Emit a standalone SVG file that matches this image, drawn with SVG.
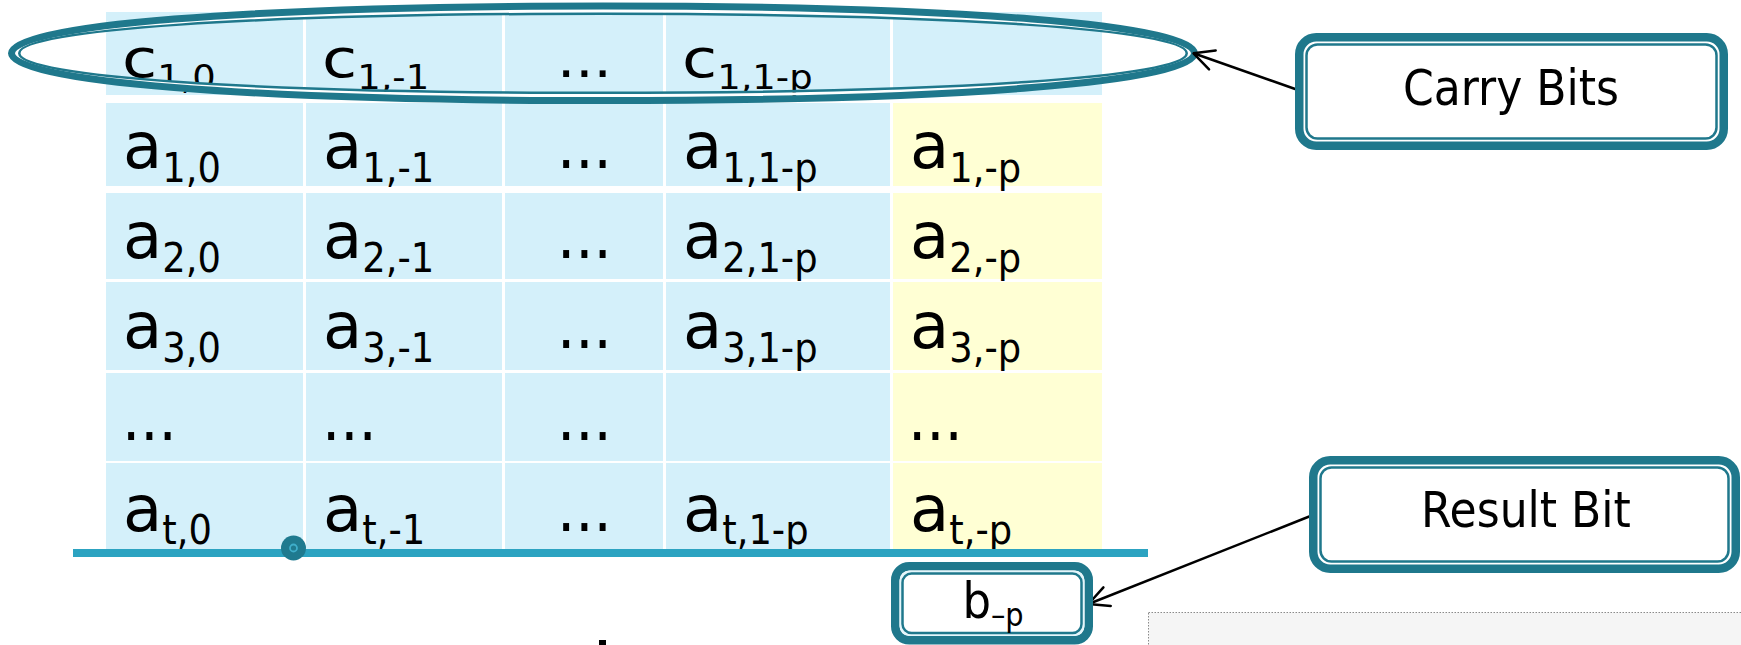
<svg xmlns="http://www.w3.org/2000/svg" width="1741" height="645" viewBox="0 0 1741 645">
  <defs>
    <style>
      .cb { fill: #D4F0FA; }
      .cy { fill: #FFFFD4; }
      .t { font-family: "DejaVu Sans", sans-serif; font-size: 64px; fill: #000; }
      .s { font-family: "DejaVu Sans Condensed", "DejaVu Sans", sans-serif; font-stretch: condensed; font-size: 41px; }
      .d { font-family: "DejaVu Sans Condensed", "DejaVu Sans", sans-serif; font-stretch: condensed; font-size: 64px; fill: #000; }
      .lbl { font-family: "DejaVu Sans Condensed", "DejaVu Sans", sans-serif; font-stretch: condensed; font-size: 49px; fill: #000; text-anchor: middle; }
      .thick { fill: none; stroke: #1F788C; stroke-width: 8.5; }
      .thin { fill: none; stroke: #1F788C; stroke-width: 2.5; }
      .ring-thick { fill: none; stroke: #1F788C; stroke-width: 7; }
      .conn { fill: none; stroke: #000; stroke-width: 2.5; }
    </style>
    <marker id="open" markerUnits="userSpaceOnUse" viewBox="0 0 24 24" markerWidth="24" markerHeight="24" refX="22" refY="12" orient="auto">
      <path d="M2,2 L22,12 L2,22" fill="none" stroke="#000" stroke-width="2.5" stroke-linecap="round" stroke-linejoin="round"/>
    </marker>
  </defs>

  <rect width="1741" height="645" fill="#fff"/>

  <!-- bit table -->
  <g id="table">
    <g id="cells">
      <!-- carry row -->
      <rect class="cb" x="106" y="12" width="197" height="83"/>
      <rect class="cb" x="306" y="12" width="196" height="83"/>
      <rect class="cb" x="505" y="12" width="158" height="83"/>
      <rect class="cb" x="666" y="12" width="224" height="83"/>
      <rect class="cb" x="893" y="12" width="209" height="83"/>
      <!-- row 1 -->
      <rect class="cb" x="106" y="103" width="197" height="83"/>
      <rect class="cb" x="306" y="103" width="196" height="83"/>
      <rect class="cb" x="505" y="103" width="158" height="83"/>
      <rect class="cb" x="666" y="103" width="224" height="83"/>
      <rect class="cy" x="893" y="103" width="209" height="83"/>
      <!-- row 2 -->
      <rect class="cb" x="106" y="193" width="197" height="86"/>
      <rect class="cb" x="306" y="193" width="196" height="86"/>
      <rect class="cb" x="505" y="193" width="158" height="86"/>
      <rect class="cb" x="666" y="193" width="224" height="86"/>
      <rect class="cy" x="893" y="193" width="209" height="86"/>
      <!-- row 3 -->
      <rect class="cb" x="106" y="282" width="197" height="88"/>
      <rect class="cb" x="306" y="282" width="196" height="88"/>
      <rect class="cb" x="505" y="282" width="158" height="88"/>
      <rect class="cb" x="666" y="282" width="224" height="88"/>
      <rect class="cy" x="893" y="282" width="209" height="88"/>
      <!-- ellipsis row -->
      <rect class="cb" x="106" y="373" width="197" height="88"/>
      <rect class="cb" x="306" y="373" width="196" height="88"/>
      <rect class="cb" x="505" y="373" width="158" height="88"/>
      <rect class="cb" x="666" y="373" width="224" height="88"/>
      <rect class="cy" x="893" y="373" width="209" height="88"/>
      <!-- row t -->
      <rect class="cb" x="106" y="463" width="197" height="87"/>
      <rect class="cb" x="306" y="463" width="196" height="87"/>
      <rect class="cb" x="505" y="463" width="158" height="87"/>
      <rect class="cb" x="666" y="463" width="224" height="87"/>
      <rect class="cy" x="893" y="463" width="209" height="87"/>
    </g>

    <g id="carry-row" transform="translate(0,77) scale(1,0.82)">
      <text class="t" x="122" y="0">c<tspan class="s" dy="15">1,0</tspan></text>
      <text class="t" x="322" y="0">c<tspan class="s" dy="15">1,-1</tspan></text>
      <text class="d" x="557" y="0">...</text>
      <text class="t" x="682" y="0">c<tspan class="s" dy="15">1,1-p</tspan></text>
    </g>

    <g id="row-1">
      <text class="t" x="123" y="168">a<tspan class="s" dy="13.5">1,0</tspan></text>
      <text class="t" x="323" y="168">a<tspan class="s" dy="13.5">1,-1</tspan></text>
      <text class="d" x="557" y="168">...</text>
      <text class="t" x="683" y="168">a<tspan class="s" dy="13.5">1,1-p</tspan></text>
      <text class="t" x="910" y="168">a<tspan class="s" dy="13.5">1,-p</tspan></text>
    </g>
    <g id="row-2">
      <text class="t" x="123" y="258">a<tspan class="s" dy="13.5">2,0</tspan></text>
      <text class="t" x="323" y="258">a<tspan class="s" dy="13.5">2,-1</tspan></text>
      <text class="d" x="557" y="258">...</text>
      <text class="t" x="683" y="258">a<tspan class="s" dy="13.5">2,1-p</tspan></text>
      <text class="t" x="910" y="258">a<tspan class="s" dy="13.5">2,-p</tspan></text>
    </g>
    <g id="row-3">
      <text class="t" x="123" y="348">a<tspan class="s" dy="13.5">3,0</tspan></text>
      <text class="t" x="323" y="348">a<tspan class="s" dy="13.5">3,-1</tspan></text>
      <text class="d" x="557" y="348">...</text>
      <text class="t" x="683" y="348">a<tspan class="s" dy="13.5">3,1-p</tspan></text>
      <text class="t" x="910" y="348">a<tspan class="s" dy="13.5">3,-p</tspan></text>
    </g>
    <g id="row-dots">
      <text class="d" x="122" y="439.5">...</text>
      <text class="d" x="322" y="439.5">...</text>
      <text class="d" x="557" y="439.5">...</text>
      <text class="d" x="908" y="439.5">...</text>
    </g>
    <g id="row-t">
      <text class="t" x="123" y="530.5">a<tspan class="s" dy="13.5">t,0</tspan></text>
      <text class="t" x="323" y="530.5">a<tspan class="s" dy="13.5">t,-1</tspan></text>
      <text class="d" x="557" y="530.5">...</text>
      <text class="t" x="683" y="530.5">a<tspan class="s" dy="13.5">t,1-p</tspan></text>
      <text class="t" x="910" y="530.5">a<tspan class="s" dy="13.5">t,-p</tspan></text>
    </g>
  </g>

  <!-- sum rule under the table -->
  <g id="sum-line">
    <rect x="73" y="549" width="1075" height="8" fill="#2CA3C1"/>
    <circle cx="293.5" cy="548" r="12.5" fill="#1F7A8F"/>
    <circle cx="293.5" cy="548" r="3.5" fill="none" stroke="#3FAECA" stroke-width="1.8"/>
  </g>

  <!-- ring around the carry row: thick-thin double outline -->
  <g id="carry-ring">
    <path fill="none" stroke="#fff" stroke-width="3" d="M1189.5,53.3 C1189.5,78.68 954.9,95.6 603,95.6 C251.1,95.6 16.5,78.68 16.5,53.3 C16.5,27.92 251.1,11 603,11 C954.9,11 1189.5,27.92 1189.5,53.3 Z"/>
    <path class="ring-thick" d="M1194.5,53.3 C1194.5,81.68 957.9,100.6 603,100.6 C248.1,100.6 11.5,81.68 11.5,53.3 C11.5,24.92 248.1,6 603,6 C957.9,6 1194.5,24.92 1194.5,53.3 Z"/>
    <path class="thin" d="M1186.75,53.3 C1186.75,77.03 953.25,92.85 603,92.85 C252.75,92.85 19.25,77.03 19.25,53.3 C19.25,29.57 252.75,13.75 603,13.75 C953.25,13.75 1186.75,29.57 1186.75,53.3 Z"/>
  </g>

  <!-- connectors -->
  <g id="connectors">
    <line class="conn" x1="1298" y1="90" x2="1193.5" y2="53.3" marker-end="url(#open)"/>
    <line class="conn" x1="1313" y1="515" x2="1088.5" y2="604" marker-end="url(#open)"/>
  </g>

  <g id="carry-bits">
    <rect x="1299.25" y="37.25" width="424.5" height="108.5" rx="17" fill="#fff" class="thick"/>
    <rect x="1306.5" y="44.5" width="410" height="94" rx="11" class="thin"/>
    <text class="lbl" x="1511" y="105">Carry Bits</text>
  </g>

  <g id="result-bit">
    <rect x="1313.25" y="460.25" width="422.5" height="108.5" rx="17" fill="#fff" class="thick"/>
    <rect x="1320.5" y="467.5" width="408" height="94" rx="11" class="thin"/>
    <text class="lbl" x="1526" y="527">Result Bit</text>
  </g>

  <g id="b-p">
    <rect x="895.25" y="566.25" width="193.5" height="74" rx="14" fill="#B3E7F3" class="thick"/>
    <rect x="900.5" y="571.5" width="183" height="63.5" rx="10" fill="none" stroke="#E4F6FB" stroke-width="2"/>
    <rect x="902.5" y="573.5" width="179" height="59.5" rx="9" class="thin"/>
    <text class="lbl" x="993" y="618" style="font-size:50px">b<tspan dy="8" style="font-size:32px">–p</tspan></text>
  </g>

  <g id="panel">
    <rect x="1148.5" y="612.5" width="600" height="40" fill="#F5F5F5" stroke="#8A8A8A" stroke-width="1" stroke-dasharray="1.5 1.5"/>
  </g>

  <rect x="599" y="640" width="7" height="5" fill="#000"/>
</svg>
